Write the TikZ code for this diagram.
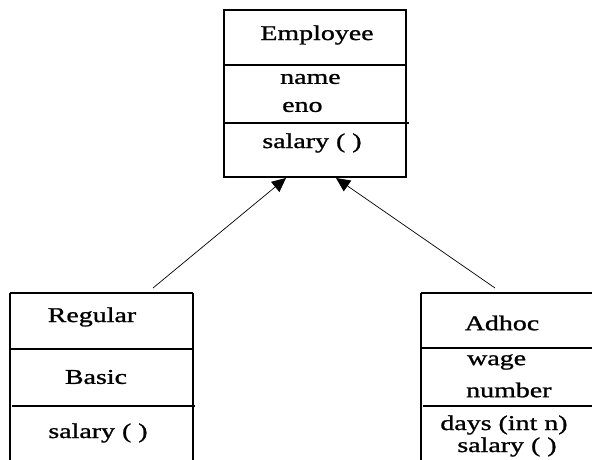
\documentclass[tikz,border=0pt]{standalone}
\usepackage{fontspec}
\setmainfont[FakeStretch=1.33,FakeBold=1.2]{Liberation Serif}
\usetikzlibrary{arrows.meta}
\begin{document}
\begin{tikzpicture}[x=1pt,y=-1pt,
  boxline/.style={draw=black,line width=1.2pt},
  lbl/.style={inner sep=0pt,font=\fontsize{21}{22}\selectfont},
  conn/.style={draw=black,line width=0.7pt,-{Triangle[width=13pt,length=14pt]}}]
\useasboundingbox (0,0) rectangle (592,459);
% Employee
\draw[boxline] (224,10) rectangle (406,177);
\draw[boxline] (224,65) -- (406,65);
\draw[boxline] (224,123) -- (409,123);
\node[lbl] (emp) at (317,35) {Employee};
\node[lbl,anchor=west] (ename) at (280,79) {name};
\node[lbl,anchor=west] (eeno) at (282,107) {eno};
\node[lbl] (esal) at (312,143) {salary ( )};
\coordinate (empL) at (286,178);
\coordinate (empR) at (336,178);
% Regular
\draw[boxline] (10,293) -- (193,293);
\draw[boxline] (10,293) -- (10,460);
\draw[boxline] (193,293) -- (193,460);
\draw[boxline] (10,349) -- (193,349);
\draw[boxline] (12,406) -- (195,406);
\node[lbl] (reg) at (92,317) {Regular};
\node[lbl] (rbas) at (96,377) {Basic};
\node[lbl] (rsal) at (98,433) {salary ( )};
\coordinate (regT) at (153,288);
% Adhoc
\draw[boxline] (421,293) -- (593,293);
\draw[boxline] (421,293) -- (421,460);
\draw[boxline] (421,348) -- (593,348);
\draw[boxline] (423,406) -- (593,406);
\node[lbl] (adh) at (502,323) {Adhoc};
\node[lbl,anchor=west] (awage) at (467,362) {wage};
\node[lbl,anchor=west] (anum) at (466,390) {number};
\node[lbl] (adays) at (504,425) {days (int n)};
\node[lbl] (asal) at (507,447) {salary ( )};
\coordinate (adhT) at (495,288);
% connectors
\draw[conn] (regT) -- (empL);
\draw[conn] (adhT) -- (empR);
\end{tikzpicture}
\end{document}
